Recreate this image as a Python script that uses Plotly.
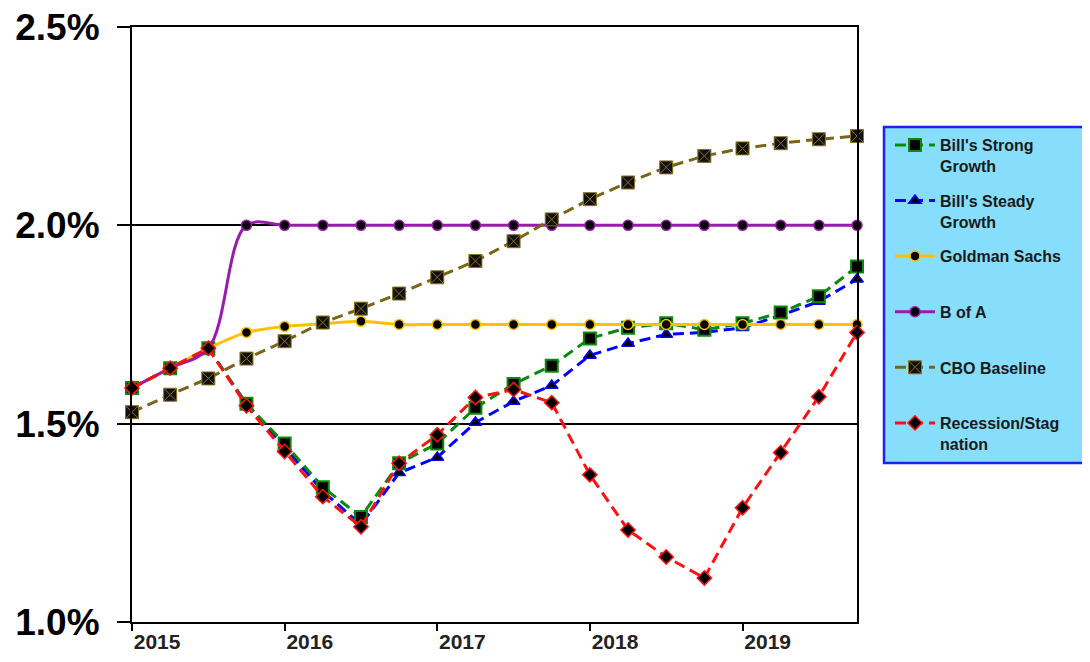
import plotly.graph_objects as go

# ---- data (quarterly, 2015Q1 .. 2019Q4) ----
quarter_idx = list(range(20))
year_ticks = [0, 4, 8, 12, 16]
year_labels = ["2015", "2016", "2017", "2018", "2019"]

strong_growth = [1.59, 1.64, 1.69, 1.55, 1.45, 1.34, 1.265, 1.40, 1.45, 1.54,
                 1.60, 1.646, 1.715, 1.742, 1.753, 1.737, 1.753, 1.78, 1.821, 1.896]
steady_growth = [1.59, 1.64, 1.69, 1.55, 1.44, 1.33, 1.245, 1.376, 1.415, 1.503,
                 1.556, 1.596, 1.672, 1.702, 1.725, 1.73, 1.742, 1.773, 1.808, 1.864]
goldman = [1.59, 1.64, 1.69, 1.73, 1.745, 1.752, 1.758, 1.75, 1.75, 1.75,
           1.75, 1.75, 1.75, 1.75, 1.75, 1.75, 1.75, 1.75, 1.75, 1.75]
bofa = [1.59, 1.64, 1.69, 2.0, 2.0, 2.0, 2.0, 2.0, 2.0, 2.0,
        2.0, 2.0, 2.0, 2.0, 2.0, 2.0, 2.0, 2.0, 2.0, 2.0]
cbo = [1.529, 1.573, 1.614, 1.664, 1.708, 1.755, 1.790, 1.828, 1.869, 1.910,
       1.960, 2.015, 2.066, 2.108, 2.146, 2.175, 2.194, 2.207, 2.217, 2.225]
recession = [1.59, 1.64, 1.69, 1.545, 1.43, 1.316, 1.24, 1.40, 1.472, 1.566,
             1.586, 1.553, 1.371, 1.232, 1.164, 1.111, 1.288, 1.427, 1.568, 1.730]

names = {
    "strong": "Bill's Strong<br>Growth",
    "steady": "Bill's Steady<br>Growth",
    "goldman": "Goldman Sachs<br>\u00a0",
    "bofa": "B of A<br>\u00a0",
    "cbo": "CBO Baseline<br>\u00a0",
    "recession": "Recession/Stag<br>nation",
}

FONT = "Liberation Sans, Arial, sans-serif"
DASH = "11px,6px"

fig = go.Figure()

# drawing order (bottom -> top) differs from legend order; legendrank fixes legend
fig.add_trace(go.Scatter(
    x=quarter_idx, y=steady_growth, name=names["steady"], legendrank=2, legendgroup="b",
    mode="lines+markers", cliponaxis=False,
    line=dict(color="#0000FF", width=3, dash=DASH),
    marker=dict(symbol="triangle-up", size=11, color="black", line=dict(color="#0000FF", width=1.5))))
fig.add_trace(go.Scatter(
    x=quarter_idx, y=strong_growth, name=names["strong"], legendrank=1, legendgroup="a",
    mode="lines+markers", cliponaxis=False,
    line=dict(color="#0A8A0A", width=3, dash=DASH),
    marker=dict(symbol="square", size=12, color="black", line=dict(color="#0A8A0A", width=2))))
fig.add_trace(go.Scatter(
    x=quarter_idx, y=goldman, name=names["goldman"], legendrank=3, legendgroup="c",
    mode="lines+markers", cliponaxis=False,
    line=dict(color="#FFC000", width=3, shape="spline", smoothing=0.8),
    marker=dict(symbol="circle", size=10, color="black", line=dict(color="#FFC000", width=1.5))))
fig.add_trace(go.Scatter(
    x=quarter_idx, y=bofa, name=names["bofa"], legendrank=4, legendgroup="d",
    mode="lines+markers", cliponaxis=False,
    line=dict(color="#9A1AAE", width=3, shape="spline", smoothing=1.0),
    marker=dict(symbol="circle", size=10, color="black", line=dict(color="#9A1AAE", width=1.5))))
fig.add_trace(go.Scatter(
    x=quarter_idx, y=cbo, name=names["cbo"], legendrank=5, legendgroup="e",
    mode="lines+markers", cliponaxis=False,
    line=dict(color="#7A6418", width=3, dash=DASH),
    marker=dict(symbol="square-x", size=13, color="#111111", line=dict(color="#8A7020", width=1))))
fig.add_trace(go.Scatter(
    x=quarter_idx, y=recession, name=names["recession"], legendrank=6, legendgroup="f",
    mode="lines+markers", cliponaxis=False,
    line=dict(color="#FF1010", width=3, dash=DASH),
    marker=dict(symbol="diamond", size=11, color="black", line=dict(color="#FF1010", width=1.5))))

W, H = 1090, 662
OFF = 8  # page body margin offset
# target plot box in screen pixels
SL, ST, SR, SB = 132, 27, 857, 622
L, T = SL - OFF, ST - OFF
R, B = W - (SR - OFF), H - (SB - OFF)
pw, ph = W - L - R, H - T - B

def px_x(p):
    return (p - OFF - L) / pw

def px_y(p):
    return (H - B - (p - OFF)) / ph

fig.update_layout(
    width=W, height=H, autosize=False,
    margin=dict(l=L, r=R, t=T, b=B, pad=0, autoexpand=False),
    paper_bgcolor="white", plot_bgcolor="white",
    font=dict(family=FONT, color="black"),
    xaxis=dict(
        range=[0, 19], tickmode="array", tickvals=year_ticks, ticktext=year_labels,
        showgrid=False, zeroline=False, automargin=False,
        showline=True, linecolor="black", linewidth=2, mirror=True,
        ticks="outside", ticklen=7, tickwidth=1.5, tickcolor="black",
        ticklabelposition="outside right", ticklabeloverflow="allow",
        tickfont=dict(family=FONT, size=21, weight="bold", color="#222"),
    ),
    yaxis=dict(
        range=[1.0, 2.5], tickmode="array", tickvals=[1.0, 1.5, 2.0, 2.5],
        ticktext=["1.0%", "1.5%", "2.0%", "2.5%"],
        showgrid=True, gridcolor="black", gridwidth=1.5, zeroline=False, automargin=False,
        showline=True, linecolor="black", linewidth=2, mirror=True,
        ticks="outside", ticklen=13, tickwidth=1.5, tickcolor="black",
        ticklabelstandoff=10, ticklabeloverflow="allow",
        tickfont=dict(family=FONT, size=37, weight="bold", color="black"),
    ),
    showlegend=True,
    legend=dict(
        xref="container", yref="container",
        x=(890 - OFF) / W, y=1 - (128 - OFF) / H, xanchor="left", yanchor="top",
        bgcolor="rgba(0,0,0,0)", borderwidth=0, maxheight=1000,
        font=dict(family=FONT, size=16, weight="bold", color="#1a1a1a"),
        valign="top", itemwidth=40, tracegroupgap=11, traceorder="grouped",
    ),
    shapes=[dict(
        type="rect", xref="paper", yref="paper", layer="below",
        x0=px_x(884), x1=px_x(1110), y0=px_y(463), y1=px_y(127),
        fillcolor="#87DDFC", line=dict(color="#2020F0", width=2.5),
    )],
)

fig.write_html("out.html")
